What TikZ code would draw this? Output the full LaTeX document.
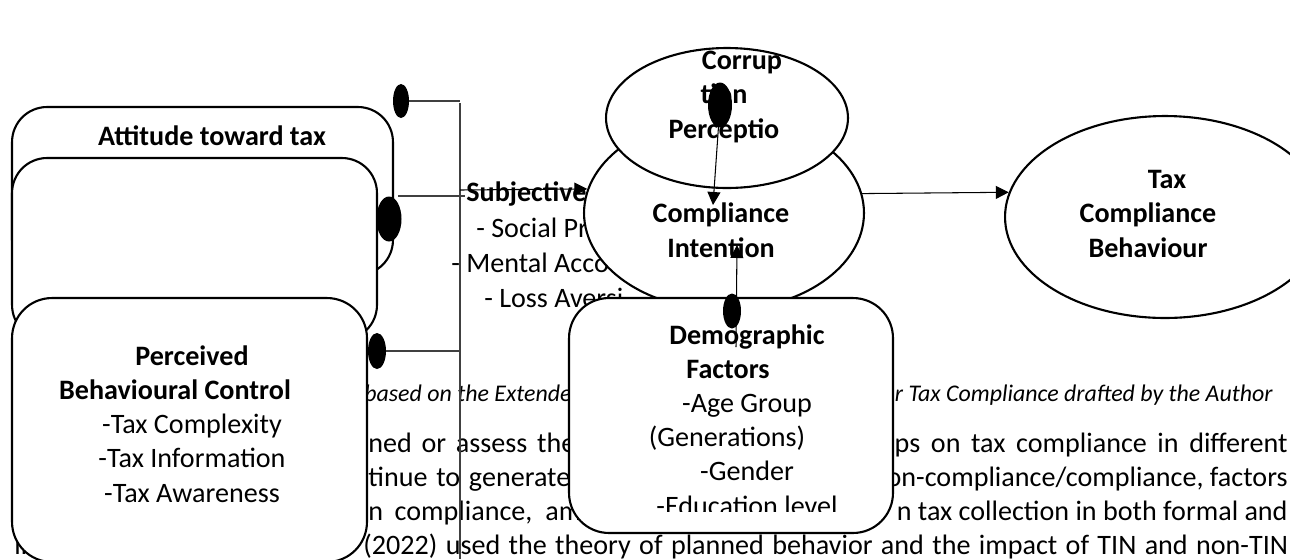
\documentclass[tikz,border=0pt]{standalone}
\usepackage{fontspec}
\setmainfont{Carlito}
\usepackage{tikz}
\usetikzlibrary{shapes.geometric,arrows.meta,positioning}

\begin{document}
\begin{tikzpicture}[
    x=0.02cm, y=-0.02cm,
    box/.style={rectangle, draw=black, fill=white, line width=1.2pt, rounded corners=0.7cm, inner sep=0pt},
    oval/.style={ellipse, draw=black, fill=white, line width=1.2pt, inner sep=0pt},
    blob/.style={ellipse, fill=black, inner sep=0pt},
    lbl/.style={align=center, anchor=base, inner sep=0pt, font=\fontsize{16}{19.4}\selectfont},
    head/.style={lbl, font=\bfseries\fontsize{16}{19.4}\selectfont},
    body/.style={anchor=base west, inner sep=0pt, font=\fontsize{16}{19.4}\selectfont},
    capt/.style={body, font=\itshape\fontsize{13.6}{16}\selectfont},
    link/.style={draw=black!75, line width=0.6pt},
    line/.style={-{Triangle[length=0.26cm, width=0.26cm]}, line width=0.6pt, draw=black}
]
    \useasboundingbox (0,0) rectangle (1290,559);

    % running text of the page behind the figure
    \node[capt] (capL) at (364,401) {based on the Extende};
    \node[capt, anchor=base east] (capR) at (1273,401) {r Tax Compliance drafted by the Author};
    \node[body] (l1a) at (368,452) {\makebox[4.14cm][s]{ned or assess the}};
    \node[body, anchor=base east] (l1b) at (1288,452) {\makebox[7.86cm][s]{ps on tax compliance in different}};
    \node[body] (l2a) at (368,486) {\makebox[4.04cm][s]{tinue to generate}};
    \node[body, anchor=base east] (l2b) at (1288,486) {on-compliance/compliance, factors};
    \node[body] (l3a) at (368,520) {\makebox[4.26cm][s]{n compliance, am}};
    \node[body, anchor=base east] (l3b) at (1288,520) {n tax collection in both formal and};
    \node[body] (l4a) at (14,554) {in};
    \node[body] (l4b) at (363,554) {\makebox[18.5cm][s]{(2022) used the theory of planned behavior and the impact of TIN and non-TIN}};

    % bus on the left
    \coordinate (busTop) at (460,103);
    \coordinate (busBot) at (460,559);
    \coordinate (j1) at (460,190);
    \coordinate (j2) at (465,196);
    \draw[link] (busTop) -- (busBot);

    % three boxes
    \node[box, minimum width=7.62cm, minimum height=3.36cm] (att) at (202.5,191) {};
    \node[box, minimum width=7.3cm, minimum height=3.64cm] (sub) at (194.5,249) {};
    \node[box, minimum width=7.1cm, minimum height=5.28cm, rounded corners=0.8cm] (pbc) at (189.5,430) {};
    \node[head] (attText) at (212,145) {Attitude toward tax};
    \node[lbl] (pbcText) at (192,502) {\textbf{Perceived}\\\hspace*{-0.68cm}\textbf{Behavioural Control}\\-Tax Complexity\\-Tax Information\\-Tax Awareness};

    \node[blob, minimum width=0.32cm, minimum height=0.68cm] (dot1) at (401,101) {};
    \node[blob, minimum width=0.5cm, minimum height=0.9cm] (dot2) at (389,219) {};
    \node[blob, minimum width=0.36cm, minimum height=0.72cm] (dot3) at (377,351) {};
    \draw[link] (dot1.east) -- (dot1.east -| busTop);
    \draw[link] (dot2.north east |- j2) -- (j2);
    \draw[link] (dot3.east) -- (dot3.east -| busTop);

    \node[body, font=\bfseries\fontsize{16}{19.4}\selectfont] (subj) at (466,201) {Subjective};
    \node[body] (soc) at (476,237) {- Social Pr};
    \node[body] (ment) at (451,272) {- Mental Acco};
    \node[body] (loss) at (484,307) {- Loss Aversi};

    % ovals
    \node[oval, minimum width=5.6cm, minimum height=3.88cm] (ci) at (724,213) {};
    \node[oval, minimum width=4.84cm, minimum height=2.8cm] (cp) at (727,118) {};
    \node[oval, minimum width=6.4cm, minimum height=4.04cm] (tcb) at (1165,217) {};
    \node[head] (ciText) at (721,257) {Compliance\\Intention};
    \node[head] (cpText) at (724,138) {\hspace*{0.72cm}Corrup\\tion\\Perceptio};
    \node[head] (tcbText) at (1148,257) {\hspace*{0.76cm}Tax\\Compliance\\Behaviour};

    \draw[line] (j1) -- (ci.170);
    \draw[line] (ci.8) -- (tcb.171);

    % demographic box
    \node[box, minimum width=6.48cm, minimum height=4.7cm, rounded corners=0.8cm] (dm) at (731,415.5) {};
    \begin{scope}
        \clip (569,298) rectangle (893,511);
        \node[lbl] (dmText) at (747,515) {\textbf{Demographic}\\\hspace*{-0.76cm}\textbf{Factors}\\-Age Group\\\hspace*{-0.8cm}(Generations)\\-Gender\\-Education level};
    \end{scope}

    \node[blob, minimum width=0.48cm, minimum height=0.9cm] (dotC) at (720,105) {};
    \node[blob, minimum width=0.36cm, minimum height=0.7cm] (dotD) at (732,311) {};
    \coordinate (tipC) at (713,205);
    \coordinate (tailD) at (736,347);
    \coordinate (tipD) at (737,245);
    \draw[line] (dotC.center) -- (tipC);
    \draw[line] (tailD) -- (tipD);
\end{tikzpicture}
\end{document}
